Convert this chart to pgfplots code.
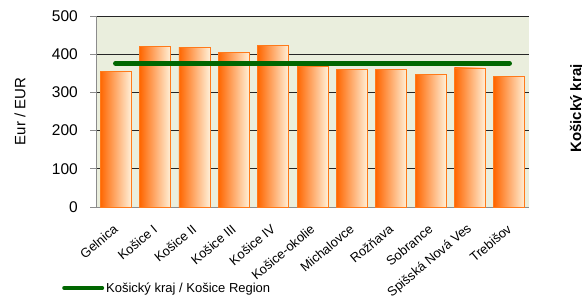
\documentclass[border=0pt]{standalone}
\usepackage{fontspec}
\setmainfont{Liberation Sans}
\usepackage{pgfplots}
\pgfplotsset{compat=1.18}
\definecolor{bg}{HTML}{EAEEDD}
\definecolor{barL}{HTML}{FF6600}
\definecolor{barM}{HTML}{FF9A00}
\definecolor{barR}{HTML}{FFF0D8}
\definecolor{barE}{HTML}{FF7A1A}
\definecolor{lineG}{HTML}{006600}
\pgfplotsset{mybar/.style={ybar, bar width=31bp, bar shift=0pt, draw=barE, line width=0.8bp, left color=barL, middle color=barM, right color=barR, forget plot}}
\begin{document}
\begin{tikzpicture}[x=1bp,y=1bp]
\useasboundingbox (0,0) rectangle (582,296);
\begin{axis}[
  at={(96bp,89bp)}, anchor=south west,
  scale only axis, width=433bp, height=191bp,
  xmin=-0.5, xmax=10.5, ymin=0, ymax=500,
  axis background/.style={fill=bg},
  axis x line*=bottom, axis y line*=left,
  axis line style={draw=black!45, line width=0.9bp, -},
  ytick={0,100,200,300,400,500},
  ymajorgrids, grid style={draw=black!85, line width=0.9bp},
  tick align=outside,
  major tick length=6bp,
  tick style={draw=black!45, line width=0.9bp},
  xtick={0,...,10},
  major x tick style={draw=none},
  xticklabels={Gelnica,Košice I,Košice II,Košice III,Košice IV,Košice-okolie,Michalovce,Rožňava,Sobrance,Spišská Nová Ves,Trebišov},
  extra x ticks={-0.5,1.5,3.5,5.5,7.5,9.5},
  extra x tick labels={},
  extra x tick style={major tick length=5bp, tick style={draw=black!45, line width=0.9bp}},
  xticklabel style={rotate=40, anchor=east, inner sep=0pt, font=\fontsize{13bp}{13bp}\selectfont, yshift=-11bp, xshift=-9bp},
  yticklabel style={anchor=east, inner sep=0pt, xshift=-12bp, font=\fontsize{15.5bp}{15.5bp}\selectfont},
  /pgf/number format/assume math mode=true,
  ylabel={Eur / EUR},
  ylabel style={at={(axis description cs:-0.1755,0.5)}, anchor=center, font=\fontsize{15bp}{15bp}\selectfont},
  legend style={draw=none, fill=none, at={(axis description cs:-0.0785,-0.424)}, anchor=west, inner sep=0pt, font=\fontsize{13bp}{13bp}\selectfont},
  legend cell align=left,
  legend image code/.code={\draw[#1, line width=4bp, line cap=round] (0bp,0bp) -- (38bp,0bp);},
]
\addplot[mybar] coordinates {(0,354)};
\addplot[mybar] coordinates {(1,420)};
\addplot[mybar] coordinates {(2,417)};
\addplot[mybar] coordinates {(3,405)};
\addplot[mybar] coordinates {(4,422)};
\addplot[mybar] coordinates {(5,369)};
\addplot[mybar] coordinates {(6,360)};
\addplot[mybar] coordinates {(7,360)};
\addplot[mybar] coordinates {(8,348)};
\addplot[mybar] coordinates {(9,364)};
\addplot[mybar] coordinates {(10,341)};
\addplot[draw=lineG, line width=5.3bp, line cap=round, mark=none]
  coordinates {(0,376) (10,376)};
\addlegendentry{Košický kraj / Košice Region}
\end{axis}
\node[rotate=90, anchor=base west, inner sep=0pt, font=\bfseries\fontsize{15bp}{15bp}\selectfont] at (581,143) {Košický kraj};
\end{tikzpicture}
\end{document}
